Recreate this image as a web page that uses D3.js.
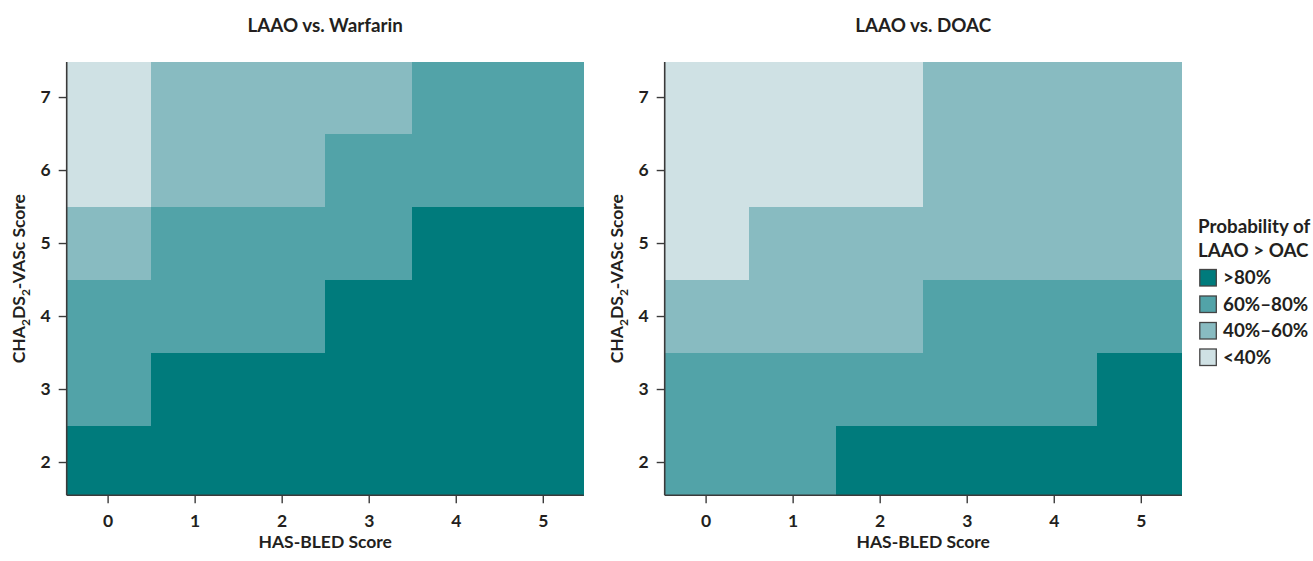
<!DOCTYPE html>
<html>
<head>
<meta charset="utf-8">
<script src="https://cdn.jsdelivr.net/npm/d3@7"></script>
<style>
  body { margin: 0; background: #fff; }
  text { font-family: "Lato", "Open Sans", sans-serif; font-weight: 700; fill: #231f20; }
</style>
</head>
<body>
<svg id="chart" width="1313" height="561"></svg>
<script>
// ---- data ----
const hasBled = [0, 1, 2, 3, 4, 5];               // x categories
const chaVasc = [2, 3, 4, 5, 6, 7];               // y categories
const panelTitles = ["LAAO vs. Warfarin", "LAAO vs. DOAC"];
const bandLabels = [">80%", "60%\u201380%", "40%\u201360%", "<40%"];
// probability band index per cell: 0 = <40%, 1 = 40-60%, 2 = 60-80%, 3 = >80%
// rows follow chaVasc order (2..7), columns follow hasBled order (0..5)
const warfarinBands = [
  [3, 3, 3, 3, 3, 3],
  [2, 3, 3, 3, 3, 3],
  [2, 2, 2, 3, 3, 3],
  [1, 2, 2, 2, 3, 3],
  [0, 1, 1, 2, 2, 2],
  [0, 1, 1, 1, 2, 2]
];
const doacBands = [
  [2, 2, 3, 3, 3, 3],
  [2, 2, 2, 2, 2, 3],
  [1, 1, 1, 2, 2, 2],
  [0, 1, 1, 1, 1, 1],
  [0, 0, 0, 1, 1, 1],
  [0, 0, 0, 1, 1, 1]
];
const bandColors = ["#cfe1e4", "#88bbc1", "#52a3a8", "#007b7c"];

// ---- layout ----
const svg = d3.select("#chart");
const plotW = 517, plotH = 433.3, plotTop = 62;
const panelLefts = [66.7, 664.7];
const xDom = [-0.47, 5.47], yDom = [1.544, 7.48];

function drawPanel(left, title, bands) {
  const g = svg.append("g").attr("transform", `translate(${left},${plotTop})`);
  const x = d3.scaleLinear().domain(xDom).range([0, plotW]);
  const y = d3.scaleLinear().domain(yDom).range([plotH, 0]);
  const cells = [];
  chaVasc.forEach((cv, ri) => hasBled.forEach((hb, ci) => cells.push({hb, cv, band: bands[ri][ci]})));
  g.selectAll("rect.cell").data(cells).join("rect")
    .attr("class", "cell")
    .attr("shape-rendering", "crispEdges")
    .attr("x", d => x(Math.max(d.hb - 0.5, xDom[0])))
    .attr("width", d => x(Math.min(d.hb + 0.5, xDom[1])) - x(Math.max(d.hb - 0.5, xDom[0])) + 0.5)
    .attr("y", d => y(Math.min(d.cv + 0.5, yDom[1])))
    .attr("height", d => y(Math.max(d.cv - 0.5, yDom[0])) - y(Math.min(d.cv + 0.5, yDom[1])) + 0.5)
    .attr("fill", d => bandColors[d.band]);

  const xAxis = g.append("g").attr("transform", `translate(0,${plotH})`)
    .call(d3.axisBottom(x).tickValues(hasBled).tickFormat(d3.format("d")).tickSize(8).tickPadding(11));
  const yAxis = g.append("g")
    .call(d3.axisLeft(y).tickValues(chaVasc).tickFormat(d3.format("d")).tickSize(8).tickPadding(8));
  [xAxis, yAxis].forEach(a => {
    a.select(".domain").attr("stroke", "#3a3a3a").attr("stroke-width", 1.6);
    a.selectAll(".tick line").attr("stroke", "#3a3a3a").attr("stroke-width", 1.4);
    a.selectAll(".tick text").attr("font-size", 17.5).attr("font-family", "Lato, sans-serif")
      .attr("font-weight", 700).attr("fill", "#231f20");
  });
  xAxis.select(".domain").attr("d", `M0,0H${plotW}`);
  yAxis.select(".domain").attr("d", `M0,0V${plotH}`);

  g.append("text").attr("x", plotW / 2).attr("y", -30.5).attr("text-anchor", "middle")
    .attr("font-size", 18.8).text(title);
  g.append("text").attr("x", plotW / 2).attr("y", plotH + 52.5).attr("text-anchor", "middle")
    .attr("font-size", 17.5).text("HAS-BLED Score");
  const yl = g.append("text").attr("transform", `translate(-42,${plotH / 2}) rotate(-90)`)
    .attr("text-anchor", "middle").attr("font-size", 17.5);
  yl.append("tspan").text("CHA");
  yl.append("tspan").attr("font-size", 12).attr("dy", 5).text("2");
  yl.append("tspan").attr("dy", -5).text("DS");
  yl.append("tspan").attr("font-size", 12).attr("dy", 5).text("2");
  yl.append("tspan").attr("dy", -5).text("-VASc Score");
}

drawPanel(panelLefts[0], panelTitles[0], warfarinBands);
drawPanel(panelLefts[1], panelTitles[1], doacBands);

// ---- legend ----
const lg = svg.append("g").attr("transform", "translate(1199,0)");
lg.append("text").attr("x", -1).attr("y", 233).attr("font-size", 18.8).text("Probability of");
lg.append("text").attr("x", -1).attr("y", 256.5).attr("font-size", 18.8).text("LAAO > OAC");
const legendIdx = [3, 2, 1, 0];
legendIdx.forEach((b, i) => {
  const yy = 269.5 + i * 26.5;
  lg.append("rect").attr("x", 0.8).attr("y", yy).attr("width", 16.5).attr("height", 16.5)
    .attr("fill", bandColors[b]).attr("stroke", "#444").attr("stroke-width", 1.3);
  lg.append("text").attr("x", 24).attr("y", yy + 14.5).attr("font-size", 18.8).text(bandLabels[i]);
});
</script>
</body>
</html>
